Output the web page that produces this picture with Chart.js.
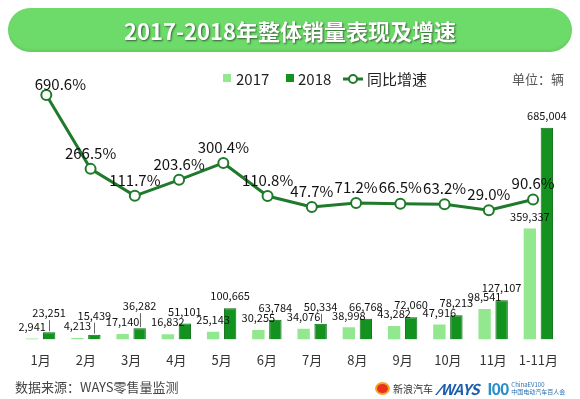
<!DOCTYPE html>
<html>
<head>
<meta charset="utf-8">
<script src="https://cdn.jsdelivr.net/npm/chart.js@4.4.1/dist/chart.umd.min.js"></script>
<style>
    body { margin: 0; background: #fff; font-family: "Noto Sans CJK SC", "Noto Sans", sans-serif; }
    #wrap { position: relative; width: 580px; height: 399px; overflow: hidden; }
    #chart { position: absolute; left: 0; top: 0; }
    .title {
        position: absolute; left: 8px; top: 8px; width: 564px; height: 44px;
        border-radius: 22px; background: #6ddb6a;
        box-shadow: inset 0 -2px 3px rgba(0, 0, 0, 0.08);
        color: #fff; font-weight: bold; font-size: 22px; line-height: 44px; text-align: center;
        text-shadow: 1px 1px 2px rgba(0, 0, 0, 0.55);
    }
    .unit { position: absolute; left: 512px; top: 69px; font-size: 13px; color: #555; }
    .src { position: absolute; left: 15px; top: 377px; font-size: 13px; color: #444; }
    .logos { position: absolute; left: 375px; top: 379px; height: 18px; display: flex; align-items: center; }
    .wb { width: 11px; height: 9px; border-radius: 50%; background: #e8321e; border: 2px solid #f5a623; margin-right: 3px; }
    .sina { font-size: 10px; color: #333; margin-right: 6px; }
    .ways { font-size: 15px; font-weight: bold; font-style: italic; color: #1d5fae; letter-spacing: -0.5px; margin-right: 8px; }
    .hund { font-size: 16px; font-weight: bold; color: #2a8fc9; letter-spacing: -1px; margin-right: 3px; }
    .ev { font-size: 6px; color: #2a6fb0; line-height: 7px; }
</style>
</head>
<body>
<div id="wrap">
    <canvas id="chart" width="580" height="399"></canvas>
    <div class="title">2017-2018年整体销量表现及增速</div>
    <div class="unit">单位：辆</div>
    <div class="src">数据来源：WAYS零售量监测</div>
    <div class="logos">
        <div class="wb"></div><span class="sina">新浪汽车</span>
        <span class="ways">⁄WAYS</span>
        <span class="hund">I00</span><span class="ev">ChinaEV100<br>中国电动汽车百人会</span>
    </div>
</div>
<script>
const months = ['1月', '2月', '3月', '4月', '5月', '6月', '7月', '8月', '9月', '10月', '11月', '1-11月'];
const sales2017 = [2941, 4213, 17140, 16832, 25143, 30255, 34076, 38998, 43282, 47916, 98541, 359337];
const sales2018 = [23251, 15439, 36282, 51101, 100665, 63784, 50334, 66768, 72060, 78213, 127107, 685004];
const growth = [690.6, 266.5, 111.7, 203.6, 300.4, 110.8, 47.7, 71.2, 66.5, 63.2, 29.0, 90.6];

const light = '#93e88f';
const dark = '#13921f';
const lineGreen = '#1f7a2b';
const fontName = '"Noto Sans CJK SC", "Noto Sans", sans-serif';

// some 2018 labels sit higher with a small leader line
const lift2018 = [7, 7, 10, 0, 0, 0, 5, 0, 0, 0, 0, 0];

function points(arr) {
    return arr.map(function(v, i) { return { x: i, y: v }; });
}

// dataset indexes: 0 = line (drawn on top), 1 = 2017, 2 = 2018
const valueLabels = {
    id: 'valueLabels',
    afterDatasetsDraw(chart) {
        const ctx = chart.ctx;
        ctx.save();
        ctx.textAlign = 'center';
        ctx.textBaseline = 'middle';
        ctx.fillStyle = '#111';
        ctx.font = '11px ' + fontName;
        [1, 2].forEach(function(di) {
            const meta = chart.getDatasetMeta(di);
            meta.data.forEach(function(bar, i) {
                const v = chart.data.datasets[di].data[i].y;
                const lift = di === 2 ? lift2018[i] : 0;
                const y = bar.y - 12 - lift;
                if (lift) {
                    ctx.strokeStyle = '#666';
                    ctx.lineWidth = 1;
                    ctx.beginPath();
                    ctx.moveTo(Math.round(bar.x) + 0.5, y + 7);
                    ctx.lineTo(Math.round(bar.x) + 0.5, bar.y - 1);
                    ctx.stroke();
                }
                ctx.fillText(v.toLocaleString('en-US'), bar.x, y);
            });
        });
        const lm = chart.getDatasetMeta(0);
        ctx.font = '15px ' + fontName;
        lm.data.forEach(function(pt, i) {
            let dx = 0, dy = -16;
            if (i === 0) { dx = 14; dy = -11; }
            ctx.fillText(growth[i].toFixed(1) + '%', pt.x + dx, pt.y + dy);
        });
        ctx.restore();
    }
};

const legendRow = {
    id: 'legendRow',
    afterDraw(chart) {
        const ctx = chart.ctx;
        const ds = chart.data.datasets;
        const y = 79;
        ctx.save();
        ctx.font = '15px ' + fontName;
        ctx.textBaseline = 'middle';
        ctx.fillStyle = light;
        ctx.fillRect(223, 74, 8, 8);
        ctx.fillStyle = '#222';
        ctx.fillText(ds[1].label, 236, y);
        ctx.fillStyle = dark;
        ctx.fillRect(286, 74, 8, 8);
        ctx.fillStyle = '#222';
        ctx.fillText(ds[2].label, 298, y);
        ctx.strokeStyle = lineGreen;
        ctx.lineWidth = 3;
        ctx.beginPath();
        ctx.moveTo(343, y);
        ctx.lineTo(363, y);
        ctx.stroke();
        ctx.fillStyle = '#fff';
        ctx.lineWidth = 2;
        ctx.beginPath();
        ctx.arc(353, y, 4, 0, Math.PI * 2);
        ctx.fill();
        ctx.stroke();
        ctx.fillStyle = '#222';
        ctx.fillText(ds[0].label, 367, y);
        ctx.restore();
    }
};

new Chart(document.getElementById('chart').getContext('2d'), {
    type: 'bar',
    data: {
        labels: months,
        datasets: [{
            type: 'line',
            label: '同比增速',
            data: points(growth),
            xAxisID: 'x2',
            yAxisID: 'y2',
            borderColor: lineGreen,
            borderWidth: 3,
            pointRadius: 5,
            pointBackgroundColor: '#fff',
            pointBorderColor: lineGreen,
            pointBorderWidth: 2,
            tension: 0
        }, {
            label: '2017',
            data: points(sales2017),
            xAxisID: 'xa',
            backgroundColor: light,
            borderWidth: 0
        }, {
            label: '2018',
            data: points(sales2018),
            xAxisID: 'xb',
            backgroundColor: dark,
            borderColor: '#0b6a15',
            borderWidth: 1
        }]
    },
    options: {
        responsive: false,
        animation: false,
        datasets: { bar: { grouped: false, barPercentage: 0.3425 } },
        layout: { padding: { left: 18, right: 19, top: 90, bottom: 18 } },
        plugins: {
            legend: { display: false },
            tooltip: { enabled: false }
        },
        scales: {
            x: {
                offset: true,
                grid: { display: false, drawTicks: false },
                border: { display: false },
                ticks: { color: '#333', font: { family: fontName, size: 13 }, padding: 13 }
            },
            // hidden x scales put each year's bar beside the month centre
            xa: { type: 'linear', display: false, offset: false, bounds: 'data', min: -0.3122, max: 11.6878, ticks: { stepSize: 1 } },
            xb: { type: 'linear', display: false, offset: false, bounds: 'data', min: -0.6878, max: 11.3122, ticks: { stepSize: 1 } },
            x2: { type: 'linear', display: false, offset: false, bounds: 'data', min: -0.64, max: 11.631, ticks: { stepSize: 1 } },
            y: { display: false, bounds: 'data', min: 0, max: 807208 },
            y2: { display: false, bounds: 'data', position: 'right', min: -712.5, max: 719.3 }
        }
    },
    plugins: [valueLabels, legendRow]
});
</script>
</body>
</html>
